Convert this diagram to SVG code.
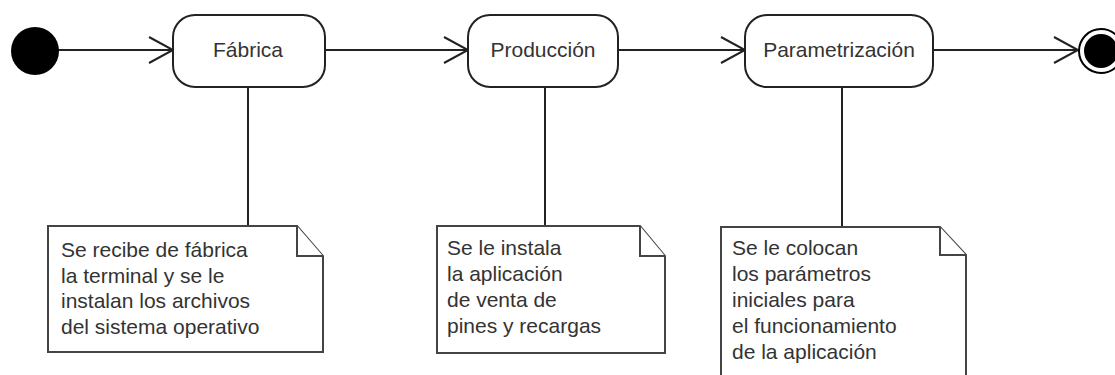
<svg xmlns="http://www.w3.org/2000/svg" width="1115" height="375" viewBox="0 0 1115 375">
<defs>
<marker id="open" markerWidth="28" markerHeight="30" refX="25" refY="14" orient="auto" markerUnits="userSpaceOnUse">
<path d="M1,1 L25,14 L1,27" fill="none" stroke="#222" stroke-width="2"/>
</marker>
<style>
.state{fill:#fff;stroke:#222;stroke-width:2}
.lbl{font-family:"Liberation Sans",Arial,sans-serif;font-size:21px;fill:#333;text-anchor:middle}
.note{fill:#fff;stroke:#444;stroke-width:2}
.ntxt{font-family:"Liberation Sans",Arial,sans-serif;font-size:21px;fill:#333}
.conn{fill:none;stroke:#222;stroke-width:2}
</style>
</defs>
<rect width="1115" height="375" fill="#fff"/>
<g id="connectors">
<line class="conn" x1="58" y1="50" x2="173" y2="50" marker-end="url(#open)"/>
<line class="conn" x1="325" y1="50" x2="468" y2="50" marker-end="url(#open)"/>
<line class="conn" x1="618" y1="50" x2="745" y2="50" marker-end="url(#open)"/>
<line class="conn" x1="933" y1="50" x2="1078" y2="50" marker-end="url(#open)"/>
<line class="conn" x1="248" y1="87" x2="248" y2="226"/>
<line class="conn" x1="545" y1="87" x2="545" y2="226"/>
<line class="conn" x1="842" y1="87" x2="842" y2="227"/>
</g>
<g id="start"><circle cx="35" cy="51" r="24" fill="#000"/></g>
<g id="fabrica">
<rect class="state" x="173" y="15" width="152" height="72" rx="22" ry="22"/>
<text class="lbl" x="248" y="57">Fábrica</text>
</g>
<g id="produccion">
<rect class="state" x="468" y="15" width="150" height="72" rx="22" ry="22"/>
<text class="lbl" x="543" y="57">Producción</text>
</g>
<g id="parametrizacion">
<rect class="state" x="745" y="15" width="188" height="72" rx="22" ry="22"/>
<text class="lbl" x="839" y="57">Parametrización</text>
</g>
<g id="end">
<circle cx="1101" cy="51" r="22" fill="#fff" stroke="#000" stroke-width="2"/>
<circle cx="1101" cy="51" r="17" fill="#000"/>
</g>
<g id="note1">
<path class="note" d="M48,226 H297 L323,256 V352 H48 Z"/>
<path class="note" d="M297,226 V256 H323"/>
<text class="ntxt" x="61" y="257">Se recibe de fábrica</text>
<text class="ntxt" x="61" y="283">la terminal y se le</text>
<text class="ntxt" x="61" y="308">instalan los archivos</text>
<text class="ntxt" x="61" y="334">del sistema operativo</text>
</g>
<g id="note2">
<path class="note" d="M437,226 H640 L665,256 V353 H437 Z"/>
<path class="note" d="M640,226 V256 H665"/>
<text class="ntxt" x="447" y="255">Se le instala</text>
<text class="ntxt" x="447" y="281">la aplicación</text>
<text class="ntxt" x="447" y="307">de venta de</text>
<text class="ntxt" x="447" y="333">pines y recargas</text>
</g>
<g id="note3">
<path class="note" d="M721,227 H940 L966,255 V380 H721 Z"/>
<path class="note" d="M940,227 V255 H966"/>
<text class="ntxt" x="732" y="255">Se le colocan</text>
<text class="ntxt" x="732" y="281">los parámetros</text>
<text class="ntxt" x="732" y="307">iniciales para</text>
<text class="ntxt" x="732" y="333">el funcionamiento</text>
<text class="ntxt" x="732" y="359">de la aplicación</text>
</g>
</svg>
